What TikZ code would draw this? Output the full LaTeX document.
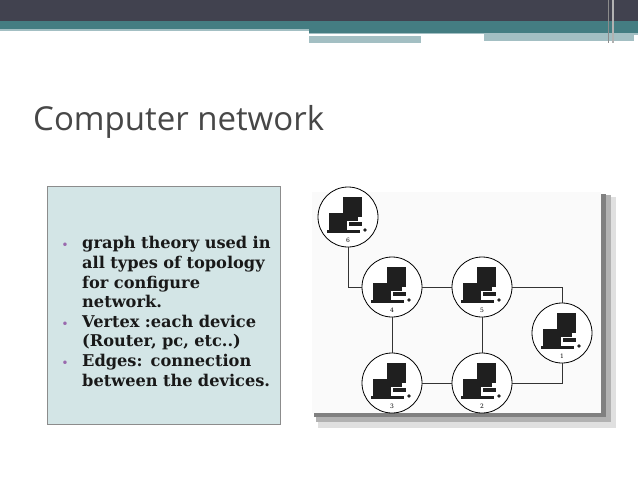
\documentclass[tikz,border=0pt]{standalone}
\usepackage{fontspec}
\setmainfont{DejaVu Serif}
\newfontfamily\titlefont{Open Sans}
\usetikzlibrary{calc}
\definecolor{darkbar}{HTML}{41424F}
\definecolor{tealbar}{HTML}{447D82}
\definecolor{lightbar}{HTML}{A3BFC3}
\definecolor{boxfill}{HTML}{D3E5E6}
\definecolor{bullet}{HTML}{9A6AAE}
\tikzset{
  pc/.style={circle,draw=black,line width=0.8pt,fill=white,minimum size=60pt,inner sep=0pt},
  link/.style={draw=black!80,line width=0.8pt},
  lbl/.style={font=\fontsize{6}{6}\selectfont,inner sep=0pt}
}
\begin{document}
\begin{tikzpicture}[x=1pt,y=-1pt]
\useasboundingbox (0,0) rectangle (638,479);
\fill[white] (0,0) rectangle (638,479);
% top bars
\fill[darkbar] (0,0) rectangle (638,21);
\fill[tealbar] (0,21) rectangle (638,29);
\fill[lightbar] (0,29) rectangle (309,31);
\fill[tealbar] (309,29) rectangle (638,33);
\fill[lightbar] (309,33) rectangle (638,35);
\fill[white] (309,34) rectangle (484,35.5);
\fill[lightbar] (309,36) rectangle (421,43);
\fill[lightbar] (484,34) rectangle (634,41);
\fill[black!45] (608,0) rectangle (609,43);
\fill[black!30] (612,0) rectangle (614,43);
% title
\node[anchor=base west,inner sep=0pt,text=black!72,font=\titlefont\fontsize{33}{33}\selectfont] (title) at (33,130) {Computer network};
% text box
\node[draw=black!45,fill=boxfill,minimum width=233pt,minimum height=238pt,anchor=north west,inner sep=0pt] (box) at (47,186) {};
\node[anchor=north west,text width=215pt,inner sep=0pt,font=\bfseries\fontsize{16.2}{19.6}\selectfont,text=black!90] (txt) at (60,229) {%
\begin{list}{\textcolor{bullet}{\fontsize{10}{10}\selectfont\textbullet}}{\leftmargin=22pt\labelwidth=8pt\labelsep=14pt\itemsep=0pt\parsep=0pt\topsep=0pt}
\item graph theory used in\\ all types of topology\\ for configure\\ network.
\item Vertex :each device\\ (Router, pc, etc..)
\item Edges: connection\\ between the devices.
\end{list}};
% image shadow and frame
\fill[black!12] (318,197) rectangle (616,428);
\fill[black!30] (316,195) rectangle (611,422);
\fill[black!50] (314,194) rectangle (606,417);
\fill[white!98!black] (312,192) rectangle (601,413);
% nodes
\node[pc] (n6) at (348,217) {};
\node[pc] (n4) at (392,287) {};
\node[pc] (n5) at (482,287) {};
\node[pc] (n1) at (562,333) {};
\node[pc] (n3) at (392,383) {};
\node[pc] (n2) at (482,383) {};
\coordinate (c6) at (348,287);
\coordinate (c1) at (562,287);
\coordinate (c1b) at (562,383);
\draw[link] (n6) -- (c6) -- (n4);
\draw[link] (n4) -- (n5);
\draw[link] (n5) -- (c1) -- (n1);
\draw[link] (n1) -- (c1b) -- (n2);
\draw[link] (n4) -- (n3);
\draw[link] (n5) -- (n2);
\draw[link] (n3) -- (n2);
\foreach \n/\l in {n6/6,n4/4,n5/5,n1/1,n3/3,n2/2}{
  \fill[black!88] ($(\n)+(-5,-20)$) rectangle ($(\n)+(14,0)$);
  \fill[black!88] ($(\n)+(-1,0)$) rectangle ($(\n)+(10,4)$);
  \fill[black!88] ($(\n)+(-19,-4)$) rectangle ($(\n)+(-1,13)$);
  \fill[black!88] ($(\n)+(-21,13)$) rectangle ($(\n)+(12,16)$);
  \fill[black!88] ($(\n)+(1,5)$) rectangle ($(\n)+(14,9)$);
  \fill[black!88] ($(\n)+(17,13)$) circle (1.8);
  \node[lbl] at ($(\n)+(0,23)$) {\l};
}
\end{tikzpicture}
\end{document}
